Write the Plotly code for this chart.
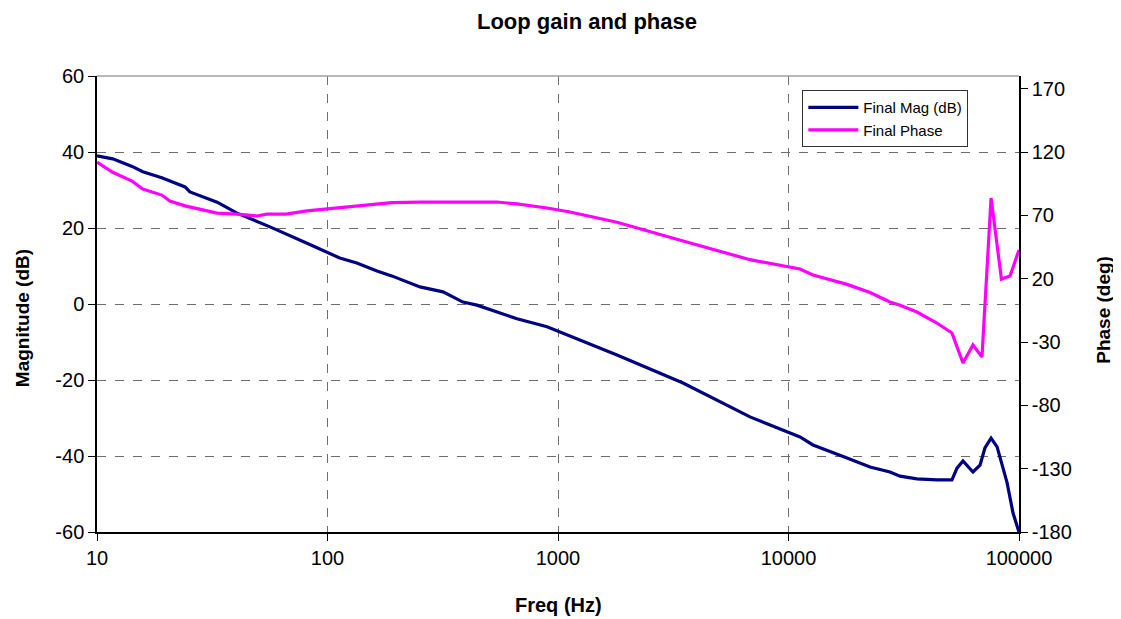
import plotly.graph_objects as go

# Magnitude series (frequency in Hz, magnitude in dB)
freq_mag = [10, 11.7, 14.2, 15.8, 19.1, 20.7, 24.1, 25.3, 33.2, 40.5, 56.3, 81.5,
            113, 134, 164, 190, 252, 317, 387, 445, 544, 664, 896, 1127, 1803,
            3487, 6808, 11220, 12770, 17950, 22580, 27560, 30470, 36070, 44060,
            51170, 53830, 57150, 63130, 67750, 71160, 75650, 80340, 88760, 94200, 100000]
mag_db = [39, 38.2, 36.2, 34.8, 33.2, 32.4, 30.8, 29.5, 26.8, 23.9, 20.3, 16,
          12.1, 10.8, 8.7, 7.4, 4.5, 3.2, 0.5, -0.3, -2.1, -3.9, -6, -8.4, -13.4,
          -20.8, -29.7, -35, -37.1, -40.5, -42.9, -44.2, -45.3, -46, -46.3,
          -46.3, -43.2, -41.3, -44.2, -42.4, -37.9, -35.3, -37.6, -47, -55, -60]

# Phase series (frequency in Hz, phase in degrees)
freq_phase = [10, 11.7, 14.2, 15.8, 19.1, 20.7, 24.1, 25.3, 33.2, 40.5, 49.5, 54.5,
              66, 81.5, 113, 134, 164, 190, 252, 317, 387, 445, 544, 664, 896,
              1127, 1803, 3487, 6808, 11220, 12770, 17950, 22580, 27560, 30470,
              36070, 44060, 51170, 57150, 63130, 69100, 75650, 83900, 91400, 100000]
phase_deg = [112, 104, 97, 90.8, 86, 81.3, 77.5, 76.6, 71.8, 71, 69.5, 71,
             71, 73.5, 75.8, 77.4, 79, 80, 80.5, 80.5, 80.5, 80.5, 80.5, 79, 75.8,
             72.6, 64.5, 49.7, 35, 27.6, 22.9, 15.5, 9, 1.6, -1,
             -6.3, -15, -22.9, -46.6, -32.4, -41.8, 83.7, 19.7, 22.1, 42.6]

x_ticks = [10, 100, 1000, 10000, 100000]
x_ticktext = ["10", "100", "1000", "10000", "100000"]
mag_ticks = [-60, -40, -20, 0, 20, 40, 60]
mag_ticktext = ["-60", "-40", "-20", "0", "20", "40", "60"]
phase_ticks = [-180, -130, -80, -30, 20, 70, 120, 170]
phase_ticktext = ["-180", "-130", "-80", "-30", "20", "70", "120", "170"]

FONT = "Liberation Sans, Arial, sans-serif"
GRID = "#6E6E6E"

fig = go.Figure()
fig.add_trace(go.Scatter(x=freq_mag, y=mag_db, mode="lines", name="Final Mag (dB)",
                         line=dict(color="#000080", width=3.2)))
fig.add_trace(go.Scatter(x=freq_phase, y=phase_deg, mode="lines", name="Final Phase",
                         line=dict(color="#FF00FF", width=3.2), yaxis="y2"))

axis_common = dict(showline=True, linecolor="black", linewidth=1.5,
                   ticks="outside", ticklen=7, tickcolor="black", tickwidth=1.2,
                   zeroline=False, automargin=False,
                   tickfont=dict(size=20, family=FONT, color="black"))

fig.update_layout(
    template="none",
    width=1121, height=619,
    paper_bgcolor="white", plot_bgcolor="white",
    margin=dict(l=89, r=110, t=68, b=95),
    font=dict(family=FONT, size=16, color="black"),
    title=dict(text="<b>Loop gain and phase</b>", x=0.5165, xanchor="center",
               xref="container", y=0.979, yanchor="middle",
               font=dict(size=22, family=FONT, color="black")),
    xaxis=dict(type="log", range=[1, 5], tickvals=x_ticks, ticktext=x_ticktext,
               showgrid=True, gridcolor=GRID, griddash="dash", gridwidth=1.2,
               **axis_common),
    yaxis=dict(range=[-60, 60], tickvals=mag_ticks, ticktext=mag_ticktext,
               showgrid=True, gridcolor=GRID, griddash="dash", gridwidth=1.2,
               **axis_common),
    yaxis2=dict(range=[-180, 180], tickvals=phase_ticks, ticktext=phase_ticktext,
                overlaying="y", side="right", showgrid=False, **axis_common),
    legend=dict(x=0.765, y=0.969, xanchor="left", yanchor="top",
                bgcolor="white", bordercolor="#333333", borderwidth=1,
                font=dict(size=15, family=FONT, color="black"), tracegroupgap=0,
                itemwidth=50),
    showlegend=True,
    annotations=[
        dict(text="<b>Freq (Hz)</b>", xref="paper", yref="paper", x=0.5, y=-0.160,
             xanchor="center", yanchor="middle", showarrow=False,
             font=dict(size=20, family=FONT, color="black")),
        dict(text="<b>Magnitude (dB)</b>", xref="paper", yref="paper", x=-0.0813, y=0.469,
             xanchor="center", yanchor="middle", showarrow=False, textangle=-90,
             font=dict(size=19, family=FONT, color="black")),
        dict(text="<b>Phase (deg)</b>", xref="paper", yref="paper", x=1.092, y=0.487,
             xanchor="center", yanchor="middle", showarrow=False, textangle=-90,
             font=dict(size=19, family=FONT, color="black")),
    ],
)

# Light top border of the plot area
fig.add_shape(type="line", xref="paper", yref="paper", x0=0, x1=1, y0=1, y1=1,
              line=dict(color="#A0A0A0", width=1.5))

fig.write_html("out.html")
